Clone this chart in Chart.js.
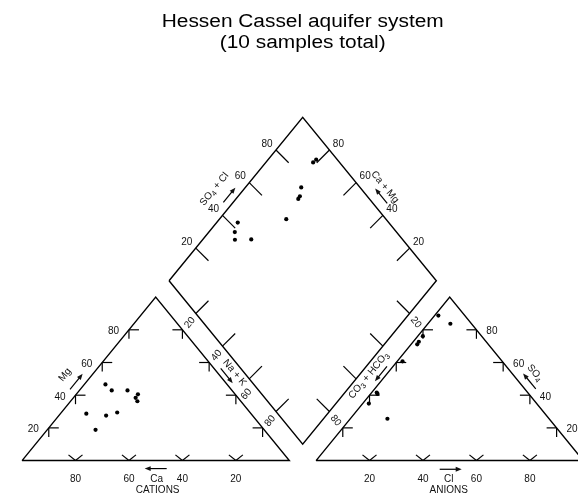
<!DOCTYPE html>
<html>
<head>
<meta charset="utf-8">
<title>Hessen Cassel aquifer system</title>
<script src="https://cdn.jsdelivr.net/npm/chart.js@4.4.1/dist/chart.umd.min.js"></script>
<style>
  html, body { margin: 0; padding: 0; background: #fff; }
  #piper { display: block; }
</style>
</head>
<body>
<canvas id="piper" width="582" height="500"></canvas>
<script>
// Piper diagram: cation triangle (left), anion triangle (right), diamond (top)
const titleLines = ['Hessen Cassel aquifer system', '(10 samples total)'];
const tickValues = [20, 40, 60, 80];
const co3TickLabels = [20, 80];   // 40 and 60 sit under the axis name

// cations, percent of total meq/L
const calcium         = [45.5, 45.0, 61.6, 49.7, 36.4, 38.3, 38.7, 63.1, 54.8, 39.1];
const magnesium       = [46.6, 42.9, 28.7, 29.4, 40.5, 38.4, 36.3, 18.8, 27.5, 42.9];
const sodiumPotassium = [ 7.9, 12.1,  9.7, 20.9, 23.1, 23.3, 25.0, 18.1, 17.7, 18.0];

// anions, percent of total meq/L
const chloride             = [ 1.9,  2.3, 13.9,  1.9,  2.1,  2.3,  2.0,  2.6,  1.4,  8.4];
const sulfate              = [41.6, 34.9, 25.6, 76.1, 72.7, 71.1, 60.7, 40.8, 88.7, 83.7];
const carbonateBicarbonate = [56.5, 62.8, 60.5, 22.0, 25.2, 26.6, 37.3, 56.6,  9.9,  7.9];

const SIN60 = Math.sqrt(3) / 2;
const GAP = 10;                        // space between the triangles
const H = 100 * SIN60;                 // triangle height
const ANION_X0 = 100 + GAP;
const DIAMOND_X0 = (100 + GAP) / 2;
const DIAMOND_Y0 = H + GAP * SIN60;

const cationXY = (ca, mg, na) => ({ x: na + mg / 2, y: mg * SIN60 });
const anionXY = (cl, so4) => ({ x: ANION_X0 + cl + so4 / 2, y: so4 * SIN60 });
const diamondXY = (na, so4cl) => ({
  x: DIAMOND_X0 + (so4cl + na) / 2,
  y: DIAMOND_Y0 + SIN60 * (so4cl - na),
});

const cationPoints = calcium.map((ca, i) => cationXY(ca, magnesium[i], sodiumPotassium[i]));
const anionPoints = chloride.map((cl, i) => anionXY(cl, sulfate[i]));
const diamondPoints = sodiumPotassium.map((na, i) => diamondXY(na, chloride[i] + sulfate[i]));

const cationFrame = [{ x: 0, y: 0 }, { x: 100, y: 0 }, { x: 50, y: H }, { x: 0, y: 0 }];
const anionFrame = [
  { x: ANION_X0, y: 0 }, { x: ANION_X0 + 100, y: 0 }, { x: ANION_X0 + 50, y: H }, { x: ANION_X0, y: 0 },
];
const diamondFrame = [diamondXY(0, 0), diamondXY(0, 100), diamondXY(100, 100), diamondXY(100, 0), diamondXY(0, 0)];

// positions along each side for a given percentage
const sides = {
  caBottom:    v => ({ x: 100 - v, y: 0 }),
  mgLeft:      v => ({ x: v / 2, y: v * SIN60 }),
  cationRight: v => ({ x: 100 - v / 2, y: v * SIN60 }),
  clBottom:    v => ({ x: ANION_X0 + v, y: 0 }),
  anionLeft:   v => ({ x: ANION_X0 + v / 2, y: v * SIN60 }),
  so4Right:    v => ({ x: ANION_X0 + 100 - v / 2, y: v * SIN60 }),
  so4clUpper:  v => diamondXY(0, v),
  camgUpper:   v => diamondXY(100 - v, 100),
  naLower:     v => diamondXY(v, 0),
  co3Lower:    v => diamondXY(100, 100 - v),
};

// short tick stubs, in pixels, drawn from the side into the plot
const stubs = {
  caBottom: [[-7, -5.7], [7, -5.7]],
  clBottom: [[-7, -5.7], [7, -5.7]],
  mgLeft: [[10, 0], [0, 9]],
  anionLeft: [[10, 0], [0, 9]],
  cationRight: [[-10, 0], [0, 9]],
  so4Right: [[-10, 0], [0, 9]],
  so4clUpper: [[12.7, 12.7]],
  camgUpper: [[-12.7, 12.7]],
  naLower: [[12.7, -12.7]],
  co3Lower: [[-12.7, -12.7]],
};

const LABEL_FONT = "10px 'Liberation Sans', Arial, sans-serif";
const SUB_FONT = "7.5px 'Liberation Sans', Arial, sans-serif";
const TITLE_FONT = "18px 'Liberation Sans', Arial, sans-serif";

function drawText(ctx, str, x, y, angle = 0) {
  ctx.save();
  ctx.translate(x, y);
  ctx.rotate(angle);
  ctx.font = LABEL_FONT;
  ctx.textAlign = 'center';
  ctx.textBaseline = 'middle';
  ctx.fillText(str, 0, 0);
  ctx.restore();
}

// text with subscripts: parts = [[text, isSubscript], ...]
function drawRich(ctx, parts, x, y, angle) {
  ctx.save();
  ctx.translate(x, y);
  ctx.rotate(angle);
  ctx.textAlign = 'left';
  ctx.textBaseline = 'middle';
  const widths = parts.map(([s, sub]) => {
    ctx.font = sub ? SUB_FONT : LABEL_FONT;
    return ctx.measureText(s).width;
  });
  let cx = -widths.reduce((a, b) => a + b, 0) / 2;
  parts.forEach(([s, sub], i) => {
    ctx.font = sub ? SUB_FONT : LABEL_FONT;
    ctx.fillText(s, cx, sub ? 3 : 0);
    cx += widths[i];
  });
  ctx.restore();
}

function drawArrow(ctx, x0, y0, x1, y1) {
  const a = Math.atan2(y1 - y0, x1 - x0);
  const hl = 6, hw = 2.4;
  ctx.beginPath();
  ctx.moveTo(x0, y0);
  ctx.lineTo(x1 - Math.cos(a) * hl * 0.6, y1 - Math.sin(a) * hl * 0.6);
  ctx.stroke();
  ctx.beginPath();
  ctx.moveTo(x1, y1);
  ctx.lineTo(x1 - Math.cos(a) * hl + Math.sin(a) * hw, y1 - Math.sin(a) * hl - Math.cos(a) * hw);
  ctx.lineTo(x1 - Math.cos(a) * hl - Math.sin(a) * hw, y1 - Math.sin(a) * hl + Math.cos(a) * hw);
  ctx.closePath();
  ctx.fill();
}

const piperAnnotations = {
  id: 'piperAnnotations',
  afterDatasetsDraw(chart) {
    const { ctx } = chart;
    const xs = chart.scales.x, ys = chart.scales.y;
    const px = p => [xs.getPixelForValue(p.x), ys.getPixelForValue(p.y)];
    const unit = (a, b) => {
      const [x0, y0] = px(a), [x1, y1] = px(b);
      const len = Math.hypot(x1 - x0, y1 - y0);
      return [(x1 - x0) / len, (y1 - y0) / len];
    };
    const offset = (p, u, n, along, perp) => [p[0] + u[0] * along + n[0] * perp, p[1] + u[1] * along + n[1] * perp];

    ctx.save();
    ctx.strokeStyle = '#000';
    ctx.fillStyle = '#111';
    ctx.lineWidth = 1.2;

    // tick stubs
    Object.keys(stubs).forEach(name => {
      tickValues.forEach(v => {
        const [x, y] = px(sides[name](v));
        stubs[name].forEach(([dx, dy]) => {
          ctx.beginPath();
          ctx.moveTo(x, y);
          ctx.lineTo(x + dx, y + dy);
          ctx.stroke();
        });
      });
    });

    // straight tick labels
    tickValues.forEach(v => {
      let [x, y] = px(sides.caBottom(v));
      drawText(ctx, String(v), x, y + 19);
      [x, y] = px(sides.clBottom(v));
      drawText(ctx, String(v), x, y + 19);
      [x, y] = px(sides.mgLeft(v));
      drawText(ctx, String(v), x - 15.5, y + 1.8);
      [x, y] = px(sides.so4Right(v));
      drawText(ctx, String(v), x + 15.5, y + 1.8);
      [x, y] = px(sides.so4clUpper(v));
      drawText(ctx, String(v), x - 9, y - 6);
      [x, y] = px(sides.camgUpper(v));
      drawText(ctx, String(v), x + 9, y - 6);
    });

    // side directions (pixels) and outward normals
    const uMg = unit({ x: 0, y: 0 }, { x: 50, y: H });
    const nMg = [uMg[1], -uMg[0]];
    const uSo4 = unit({ x: ANION_X0 + 50, y: H }, { x: ANION_X0 + 100, y: 0 });
    const nSo4 = [uSo4[1], -uSo4[0]];
    const uNa = unit(diamondXY(0, 0), diamondXY(100, 0));
    const nNa = [-uNa[1], uNa[0]];
    const uCo3 = unit(diamondXY(100, 100), diamondXY(100, 0));
    const nCo3 = [uCo3[1], -uCo3[0]];
    const uSc = unit(diamondXY(0, 0), diamondXY(0, 100));
    const nSc = [uSc[1], -uSc[0]];
    const uCm = unit(diamondXY(0, 100), diamondXY(100, 100));
    const nCm = [uCm[1], -uCm[0]];
    const angUp = Math.atan2(uMg[1], uMg[0]);     // reading up-right
    const angDown = Math.atan2(uNa[1], uNa[0]);   // reading down-right

    // rotated tick labels along the lower diamond sides
    tickValues.forEach(v => {
      const p = offset(px(sides.naLower(v)), uNa, nNa, v === 60 ? 10 : 3.5, v === 60 ? 12 : 10.5);
      drawText(ctx, String(v), p[0], p[1], angUp);
    });
    co3TickLabels.forEach(v => {
      const p = offset(px(sides.co3Lower(v)), uCo3, nCo3, 3, 10.5);
      drawText(ctx, String(v), p[0], p[1], angDown);
    });

    // axis names with direction arrows
    const arrowAt = (mid, u, sign, half) => drawArrow(ctx,
      mid[0] - u[0] * half * sign, mid[1] - u[1] * half * sign,
      mid[0] + u[0] * half * sign, mid[1] + u[1] * half * sign);

    let c = px(sides.mgLeft(50));
    let p = offset(c, uMg, nMg, -12, 21);
    drawRich(ctx, [['Mg', false]], p[0], p[1], angUp);
    arrowAt(offset(c, uMg, nMg, -10, 8), uMg, 1, 10);

    c = px(sides.so4Right(50));
    p = offset(c, uSo4, nSo4, 7, 18);
    drawRich(ctx, [['SO', false], ['4', true]], p[0], p[1], angDown);
    arrowAt(offset(c, uSo4, nSo4, 10, 8.5), uSo4, -1, 10);

    c = px(sides.naLower(50));
    p = offset(c, uNa, nNa, 7, 7.5);
    drawRich(ctx, [['Na + K', false]], p[0], p[1], angDown);
    arrowAt(offset(c, uNa, nNa, 4.5, 15.5), uNa, 1, 9.5);

    c = px(sides.co3Lower(50));
    p = offset(c, uCo3, nCo3, 10.5, 7.5);
    drawRich(ctx, [['CO', false], ['3', true], [' + HCO', false], ['3', true]], p[0], p[1], angUp);
    arrowAt(offset(c, uCo3, nCo3, 1.5, 16), uCo3, 1, 9.5);

    c = px(sides.so4clUpper(50));
    p = offset(c, uSc, nSc, -6, 23);
    drawRich(ctx, [['SO', false], ['4', true], [' + Cl', false]], p[0], p[1], angUp);
    arrowAt(offset(c, uSc, nSc, -1, 7.6), uSc, 1, 9.5);

    c = px(sides.camgUpper(50));
    p = offset(c, uCm, nCm, 0.5, 19.5);
    drawRich(ctx, [['Ca + Mg', false]], p[0], p[1], angDown);
    arrowAt(offset(c, uCm, nCm, 5, 11), uCm, -1, 9.5);

    // bottom axis names
    c = px(sides.caBottom(50));
    drawText(ctx, 'Ca', c[0] + 1, c[1] + 19);
    drawArrow(ctx, c[0] + 11, c[1] + 8, c[0] - 11, c[1] + 8);
    drawText(ctx, 'CATIONS', c[0] + 2, c[1] + 30);
    c = px(sides.clBottom(50));
    drawText(ctx, 'Cl', c[0] - 1, c[1] + 19);
    drawArrow(ctx, c[0] - 10, c[1] + 8.7, c[0] + 12, c[1] + 8.7);
    drawText(ctx, 'ANIONS', c[0] - 1, c[1] + 30);

    // title, centred over the diamond
    const tx = xs.getPixelForValue(DIAMOND_X0 + 50);
    ctx.fillStyle = '#000';
    ctx.font = TITLE_FONT;
    ctx.textAlign = 'center';
    ctx.textBaseline = 'alphabetic';
    titleLines.forEach((line, i) => {
      ctx.save();
      ctx.translate(tx, 26.5 + i * 21);
      ctx.scale(1.16, 1);
      ctx.fillText(line, 0, 0);
      ctx.restore();
    });
    ctx.restore();
  },
};

const frameStyle = {
  showLine: true,
  pointRadius: 0,
  borderColor: '#000',
  borderWidth: 1.4,
  borderJoinStyle: 'miter',
  fill: false,
  tension: 0,
};
const pointStyle = {
  pointRadius: 2.1,
  pointBackgroundColor: '#000',
  pointBorderWidth: 0,
  showLine: false,
};

new Chart(document.getElementById('piper').getContext('2d'), {
  type: 'scatter',
  data: {
    datasets: [
      { label: 'cation frame', data: cationFrame, ...frameStyle },
      { label: 'anion frame', data: anionFrame, ...frameStyle },
      { label: 'diamond frame', data: diamondFrame, ...frameStyle },
      { label: 'cations', data: cationPoints, ...pointStyle },
      { label: 'anions', data: anionPoints, ...pointStyle },
      { label: 'diamond', data: diamondPoints, ...pointStyle },
    ],
  },
  options: {
    responsive: false,
    animation: false,
    layout: { padding: 0 },
    plugins: {
      legend: { display: false },
      tooltip: { enabled: false },
      title: { display: false },
    },
    scales: {
      x: { type: 'linear', display: false, min: -6.75, max: 208 },
      y: { type: 'linear', display: false, min: -18.77, max: 241.9 },
    },
  },
  plugins: [piperAnnotations],
});
</script>
</body>
</html>
